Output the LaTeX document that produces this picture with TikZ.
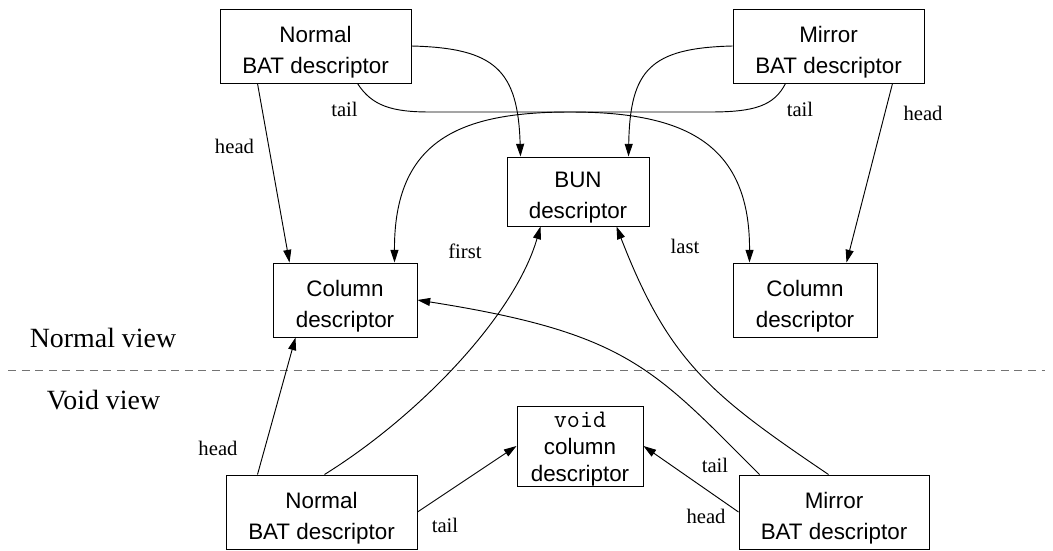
\documentclass[tikz,border=0pt]{standalone}
\usepackage{fontspec}
\setmainfont{Liberation Serif}
\setsansfont{Liberation Sans}
\usetikzlibrary{arrows.meta,calc}
% raises the first line of a box so the text block sits a little low
\newcommand\liftline[1]{\rule{0pt}{#1}}

\begin{document}
\begin{tikzpicture}[x=0.75pt,y=-0.75pt,
  box/.style 2 args={draw, line width=0.75pt, inner sep=0pt, align=center,
    minimum width=#1*0.75pt, minimum height=#2*0.75pt,
    font=\sffamily\fontsize{16.8}{23.25}\selectfont},
  link/.style={line width=0.7pt, -{Triangle[length=9.5pt,width=6pt]}},
  lbl/.style={inner sep=0pt, font=\rmfamily\fontsize{15.5}{18}\selectfont},
  view/.style={inner sep=0pt, font=\rmfamily\fontsize{20.9}{24}\selectfont},
  divider/.style={draw=black!55, line width=0.75pt, dash pattern=on 6pt off 4.2pt}
]
\useasboundingbox (0,0) rectangle (1053,550);

% ---- normal view ----
\node[box={191}{74}] (nbat) at (315.5,46) {\liftline{21.3pt}Normal\\BAT descriptor};
\node[box={191}{74}] (mbat) at (828.5,46) {\liftline{21.3pt}Mirror\\BAT descriptor};
\node[box={142}{69}] (bun)  at (578,191.5) {\liftline{21.3pt}BUN\\descriptor};
\node[box={144}{74}] (coll) at (345,300)  {\liftline{21.3pt}Column\\descriptor};
\node[box={144}{74}] (colr) at (805,300)  {\liftline{21.3pt}Column\\descriptor};

% ---- void view ----
\node[box={126}{80}, font=\sffamily\fontsize{16.8}{20.25}\selectfont] (void) at (580,446)
  {\liftline{15.6pt}{\ttfamily\fontsize{19}{20.25}\selectfont void}\\column\\descriptor};
\node[box={191}{74}] (nbatv) at (321.5,512) {\liftline{21.3pt}Normal\\BAT descriptor};
\node[box={190}{74}] (mbatv) at (834,512)   {\liftline{21.3pt}Mirror\\BAT descriptor};

% separator between the two views
\coordinate (dl) at (8,370);
\coordinate (dr) at (1045,370);
\draw[divider] (dl) -- (dr);
\node[view] (nview) at (103,338) {Normal view};
\node[view] (vview) at (103.5,400) {Void view};

% ---- connectors, normal view ----
\coordinate (meet) at (570,112);
\draw[link] ($(nbat.south west)+(38,0)$) -- ($(coll.north west)+(17,0)$);
\draw[link] (nbat.east) .. controls (495,48) and (518,70) .. ($(bun.north west)+(14,0)$);
\draw[link] (mbat.west) .. controls (650,48) and (630,70) .. ($(bun.north east)+(-21,0)$);
\draw[link] ($(mbat.south east)+(-32,0)$) -- ($(colr.north east)+(-31,0)$);
\draw[link] ($(nbat.south west)+(138,0)$) .. controls (372,106) and (392,112) .. (430,112)
  -- (meet) .. controls (680,112) and (750,140) .. ($(colr.north west)+(17,0)$);
\draw[link] ($(mbat.south west)+(53,0)$) .. controls (774,106) and (754,112) .. (710,112)
  -- (meet) .. controls (460,112) and (394,140) .. ($(coll.north east)+(-23,0)$);

% ---- connectors, void view ----
\draw[link] ($(nbatv.north west)+(32,0)$) -- ($(coll.south west)+(23,0)$);
\draw[link] ($(nbatv.north west)+(99,0)$) .. controls (420,415) and (515,315) .. ($(bun.south west)+(34,0)$);
\draw[link] (nbatv.east) -- (void.west);
\draw[link] (mbatv.west) -- (void.east);
\draw[link] ($(mbatv.north west)+(21,0)$) .. controls (653,368) and (627,333) .. (coll.east);
\draw[link] ($(mbatv.north west)+(90,0)$) .. controls (711,395) and (669,362) .. ($(bun.south east)+(-33,0)$);

% ---- connector labels ----
\node[lbl] (l1)  at (234.5,146) {head};
\node[lbl] (l2)  at (344.5,109) {tail};
\node[lbl] (l3)  at (800,109)   {tail};
\node[lbl] (l4)  at (923,113.5) {head};
\node[lbl] (l5)  at (465,251.5) {first};
\node[lbl] (l6)  at (685,246.5) {last};
\node[lbl] (l7)  at (218,448)   {head};
\node[lbl] (l8)  at (445,525)   {tail};
\node[lbl] (l9)  at (715,465)   {tail};
\node[lbl] (l10) at (706,516)   {head};
\end{tikzpicture}
\end{document}
